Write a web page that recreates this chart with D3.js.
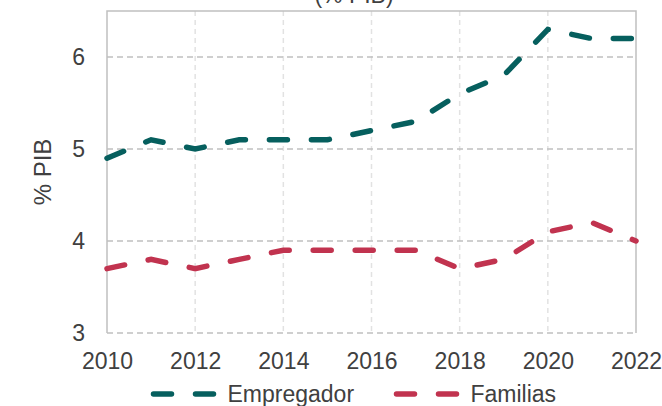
<!DOCTYPE html>
<html>
<head>
<meta charset="utf-8">
<script src="https://cdn.jsdelivr.net/npm/d3@7"></script>
<style>
  body { margin: 0; background: #fff; }
  text { font-family: "Liberation Sans", Arial, sans-serif; fill: #404040; }
</style>
</head>
<body>
<div id="chart"></div>
<script>
// Data
const years = [2010, 2011, 2012, 2013, 2014, 2015, 2016, 2017, 2018, 2019, 2020, 2021, 2022];
const empregador = [4.9, 5.1, 5.0, 5.1, 5.1, 5.1, 5.2, 5.3, 5.6, 5.8, 6.3, 6.2, 6.2];
const familias = [3.7, 3.8, 3.7, 3.8, 3.9, 3.9, 3.9, 3.9, 3.7, 3.8, 4.1, 4.2, 4.0];
const xTicks = [2010, 2012, 2014, 2016, 2018, 2020, 2022];
const yTicks = [3, 4, 5, 6];
const seriesNames = ["Empregador", "Familias"];
const colors = ["#065f5e", "#c1334f"];

const width = 662, height = 406;
const margin = { top: 11, right: 26, bottom: 73, left: 107 };

const svg = d3.select("#chart").append("svg")
  .attr("width", width)
  .attr("height", height);

const x = d3.scaleLinear()
  .domain([2010, 2022])
  .range([margin.left, width - margin.right]);

const y = d3.scaleLinear()
  .domain([3, 6.5])
  .range([height - margin.bottom, margin.top]);

// vertical grid
svg.append("g")
  .selectAll("line")
  .data(xTicks.slice(1, -1))
  .join("line")
    .attr("x1", d => x(d)).attr("x2", d => x(d))
    .attr("y1", y(6.5)).attr("y2", y(3))
    .attr("stroke", "#e2e2e2")
    .attr("stroke-width", 1.5)
    .attr("stroke-dasharray", "5,4");

// horizontal grid
svg.append("g")
  .selectAll("line")
  .data(yTicks)
  .join("line")
    .attr("x1", x(2010)).attr("x2", x(2022))
    .attr("y1", d => y(d)).attr("y2", d => y(d))
    .attr("stroke", "#c0c0c0")
    .attr("stroke-width", 1.5)
    .attr("stroke-dasharray", "6,4");

// frame (left, top, right)
svg.append("path")
  .attr("d", `M${x(2010)},${y(3)}V${y(6.5)}H${x(2022)}V${y(3)}`)
  .attr("fill", "none")
  .attr("stroke", "#c0c0c0")
  .attr("stroke-width", 1.5);

// axes
const xAxis = svg.append("g")
  .attr("transform", `translate(0,${y(3)})`)
  .call(d3.axisBottom(x).tickValues(xTicks).tickFormat(d3.format("d")).tickSize(0).tickPadding(20));
xAxis.select(".domain").remove();
xAxis.selectAll("text").attr("font-size", "23px");

const yAxis = svg.append("g")
  .attr("transform", `translate(${x(2010)},0)`)
  .call(d3.axisLeft(y).tickValues(yTicks).tickFormat(d3.format("d")).tickSize(0).tickPadding(22));
yAxis.select(".domain").remove();
yAxis.selectAll("text").attr("font-size", "23px");

// y label
svg.append("text")
  .attr("transform", `translate(51,${(y(3) + y(6.5)) / 2}) rotate(-90)`)
  .attr("text-anchor", "middle")
  .attr("font-size", "24px")
  .text("% PIB");

// title (cut at top in the reference)
svg.append("text")
  .attr("x", 354)
  .attr("y", 3)
  .attr("text-anchor", "middle")
  .attr("font-size", "23px")
  .text("(% PIB)");

// lines
const line = d3.line()
  .x((d, i) => x(years[i]))
  .y(d => y(d));

[empregador, familias].forEach((vals, i) => {
  svg.append("path")
    .datum(vals)
    .attr("d", line)
    .attr("fill", "none")
    .attr("stroke", colors[i])
    .attr("stroke-width", 5.5)
    .attr("stroke-linecap", "round")
    .attr("stroke-dasharray", "18,24");
});

// legend
const legendX = [153.5, 396.5];
seriesNames.forEach((name, i) => {
  const g = svg.append("g").attr("transform", `translate(${legendX[i]},394)`);
  g.append("line")
    .attr("x1", 0).attr("x2", 60)
    .attr("stroke", colors[i])
    .attr("stroke-width", 5.5)
    .attr("stroke-linecap", "round")
    .attr("stroke-dasharray", "18,24");
  g.append("text")
    .attr("x", 74)
    .attr("y", 8)
    .attr("font-size", "23px")
    .text(name);
});
</script>
</body>
</html>
